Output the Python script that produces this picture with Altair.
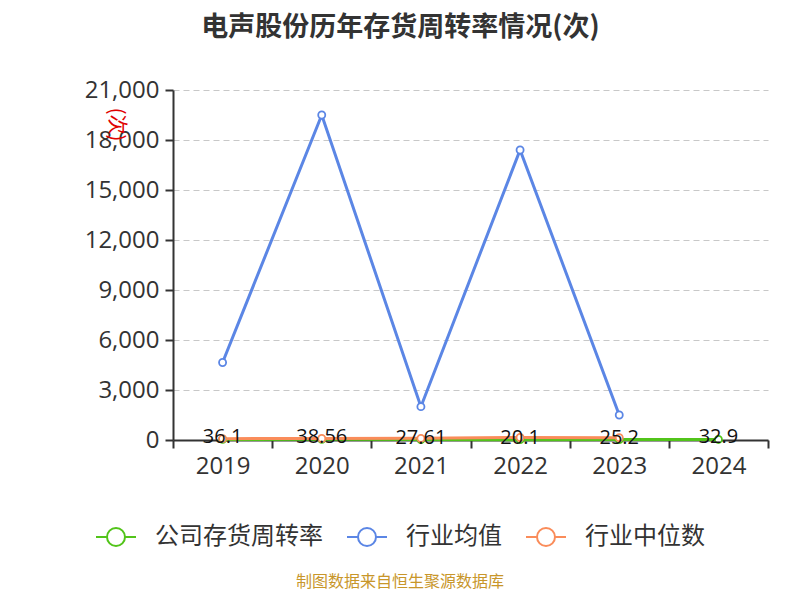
import altair as alt
import pandas as pd

years = [2019, 2020, 2021, 2022, 2023, 2024]
company = [36.1, 38.56, 27.61, 20.1, 25.2, 32.9]
ind_mean_years = [2019, 2020, 2021, 2022, 2023]
ind_mean = [4650, 19500, 2000, 17400, 1500]
ind_median_years = [2019, 2020, 2021, 2022, 2023]
ind_median = [80, 90, 100, 150, 140]

S_COMP = "公司存货周转率"
S_MEAN = "行业均值"
S_MED = "行业中位数"

rows = []
for y, v in zip(years, company):
    rows.append({"year": y, "value": v, "series": S_COMP, "label": f"{v:g}"})
for y, v in zip(ind_mean_years, ind_mean):
    rows.append({"year": y, "value": v, "series": S_MEAN, "label": ""})
for y, v in zip(ind_median_years, ind_median):
    rows.append({"year": y, "value": v, "series": S_MED, "label": ""})
df = pd.DataFrame(rows)
df["order"] = df["series"].map({S_COMP: 0, S_MEAN: 1, S_MED: 2})

FONT = "Noto Sans CJK SC"
NUMFONT = "Open Sans"
colors = ["#52c41a", "#5b86e5", "#fa8c5a"]
domain = [S_COMP, S_MEAN, S_MED]

x_scale = alt.Scale(domain=[2018.5, 2024.5], nice=False, zero=False)
y_scale = alt.Scale(domain=[0, 21000], nice=False)
color = alt.Color(
    "series:N",
    scale=alt.Scale(domain=domain, range=colors),
    legend=alt.Legend(
        title=None, orient="none", direction="horizontal",
        legendX=-78, legendY=426,
        symbolType="M-1,0L-0.45,0M0.45,0L1,0M-0.45,0A0.45,0.45 0 1,1 0.45,0A0.45,0.45 0 1,1 -0.45,0Z",
        symbolSize=1600, symbolStrokeWidth=2, symbolFillColor="white",
        labelFont=FONT, labelFontSize=24, labelColor="#333333",
        labelOffset=18, columnPadding=20, labelLimit=300,
    ),
)

base = alt.Chart(df)

lines = base.mark_line(strokeWidth=3).encode(
    x=alt.X("year:Q", scale=x_scale,
            axis=alt.Axis(orient="bottom", values=[2018.5 + i for i in range(7)],
                          labelExpr="datum.value > 2024 ? '' : format(datum.value + 0.5, 'd')",
                          labelOffset=49.6, labelFlush=False, labelOverlap=False,
                          ticks=True, tickSize=8, tickWidth=2, tickColor="#333333",
                          domain=True, domainColor="#333333", domainWidth=2,
                          grid=False, title=None, labelFont=NUMFONT, labelFontSize=24,
                          labelColor="#333333", labelPadding=6)),
    y=alt.Y("value:Q", scale=y_scale,
            axis=alt.Axis(values=list(range(0, 21001, 3000)),
                          labelExpr="format(datum.value, ',d')", grid=True,
                          gridDash=[6, 4], gridColor="#c8c8c8", gridWidth=1.2,
                          domainColor="#333333", domainWidth=2, tickColor="#333333",
                          tickSize=8, tickWidth=2, labelFont=NUMFONT, labelFontSize=24,
                          labelColor="#333333", labelPadding=6,
                          title="(次)", titleColor="#e00000", titleFont=FONT,
                          titleFontSize=20, titleFontWeight="normal",
                          titleAngle=90, titleX=-68, titleY=34)),
    color=color,
    order=alt.Order("order:Q"),
    detail="series:N",
)

points = base.mark_point(filled=True, fill="white", size=50, strokeWidth=1.8, opacity=1).encode(
    x=alt.X("year:Q", scale=x_scale),
    y=alt.Y("value:Q", scale=y_scale),
    stroke=alt.Stroke("series:N", scale=alt.Scale(domain=domain, range=colors), legend=None),
)

labels = base.transform_filter(alt.datum.series == S_COMP).mark_text(
    font=NUMFONT, fontSize=20, color="#111111", baseline="middle", dy=-2
).encode(
    x=alt.X("year:Q", scale=x_scale),
    y=alt.Y("value:Q", scale=y_scale),
    text="label:N",
)

footer = alt.Chart(pd.DataFrame({"t": ["制图数据来自恒生聚源数据库"]})).mark_text(
    font=FONT, fontSize=16, color="#c8962a", align="center", baseline="middle"
).encode(x=alt.value(227), y=alt.value(492), text="t:N")

chart = alt.layer(lines, points, labels, footer).properties(
    width=595, height=350,
    padding={"left": 165, "top": 82, "right": 24, "bottom": 152},
    autosize=alt.AutoSizeParams(type="none"),
    title=alt.TitleParams(
        "电声股份历年存货周转率情况(次)", font=FONT, fontSize=27, fontWeight="bold",
        color="#333333", anchor="middle", dx=-70, offset=36,
    ),
).configure_view(stroke=None)

chart.save("out.html", embed_options={"renderer": "svg", "actions": False})
